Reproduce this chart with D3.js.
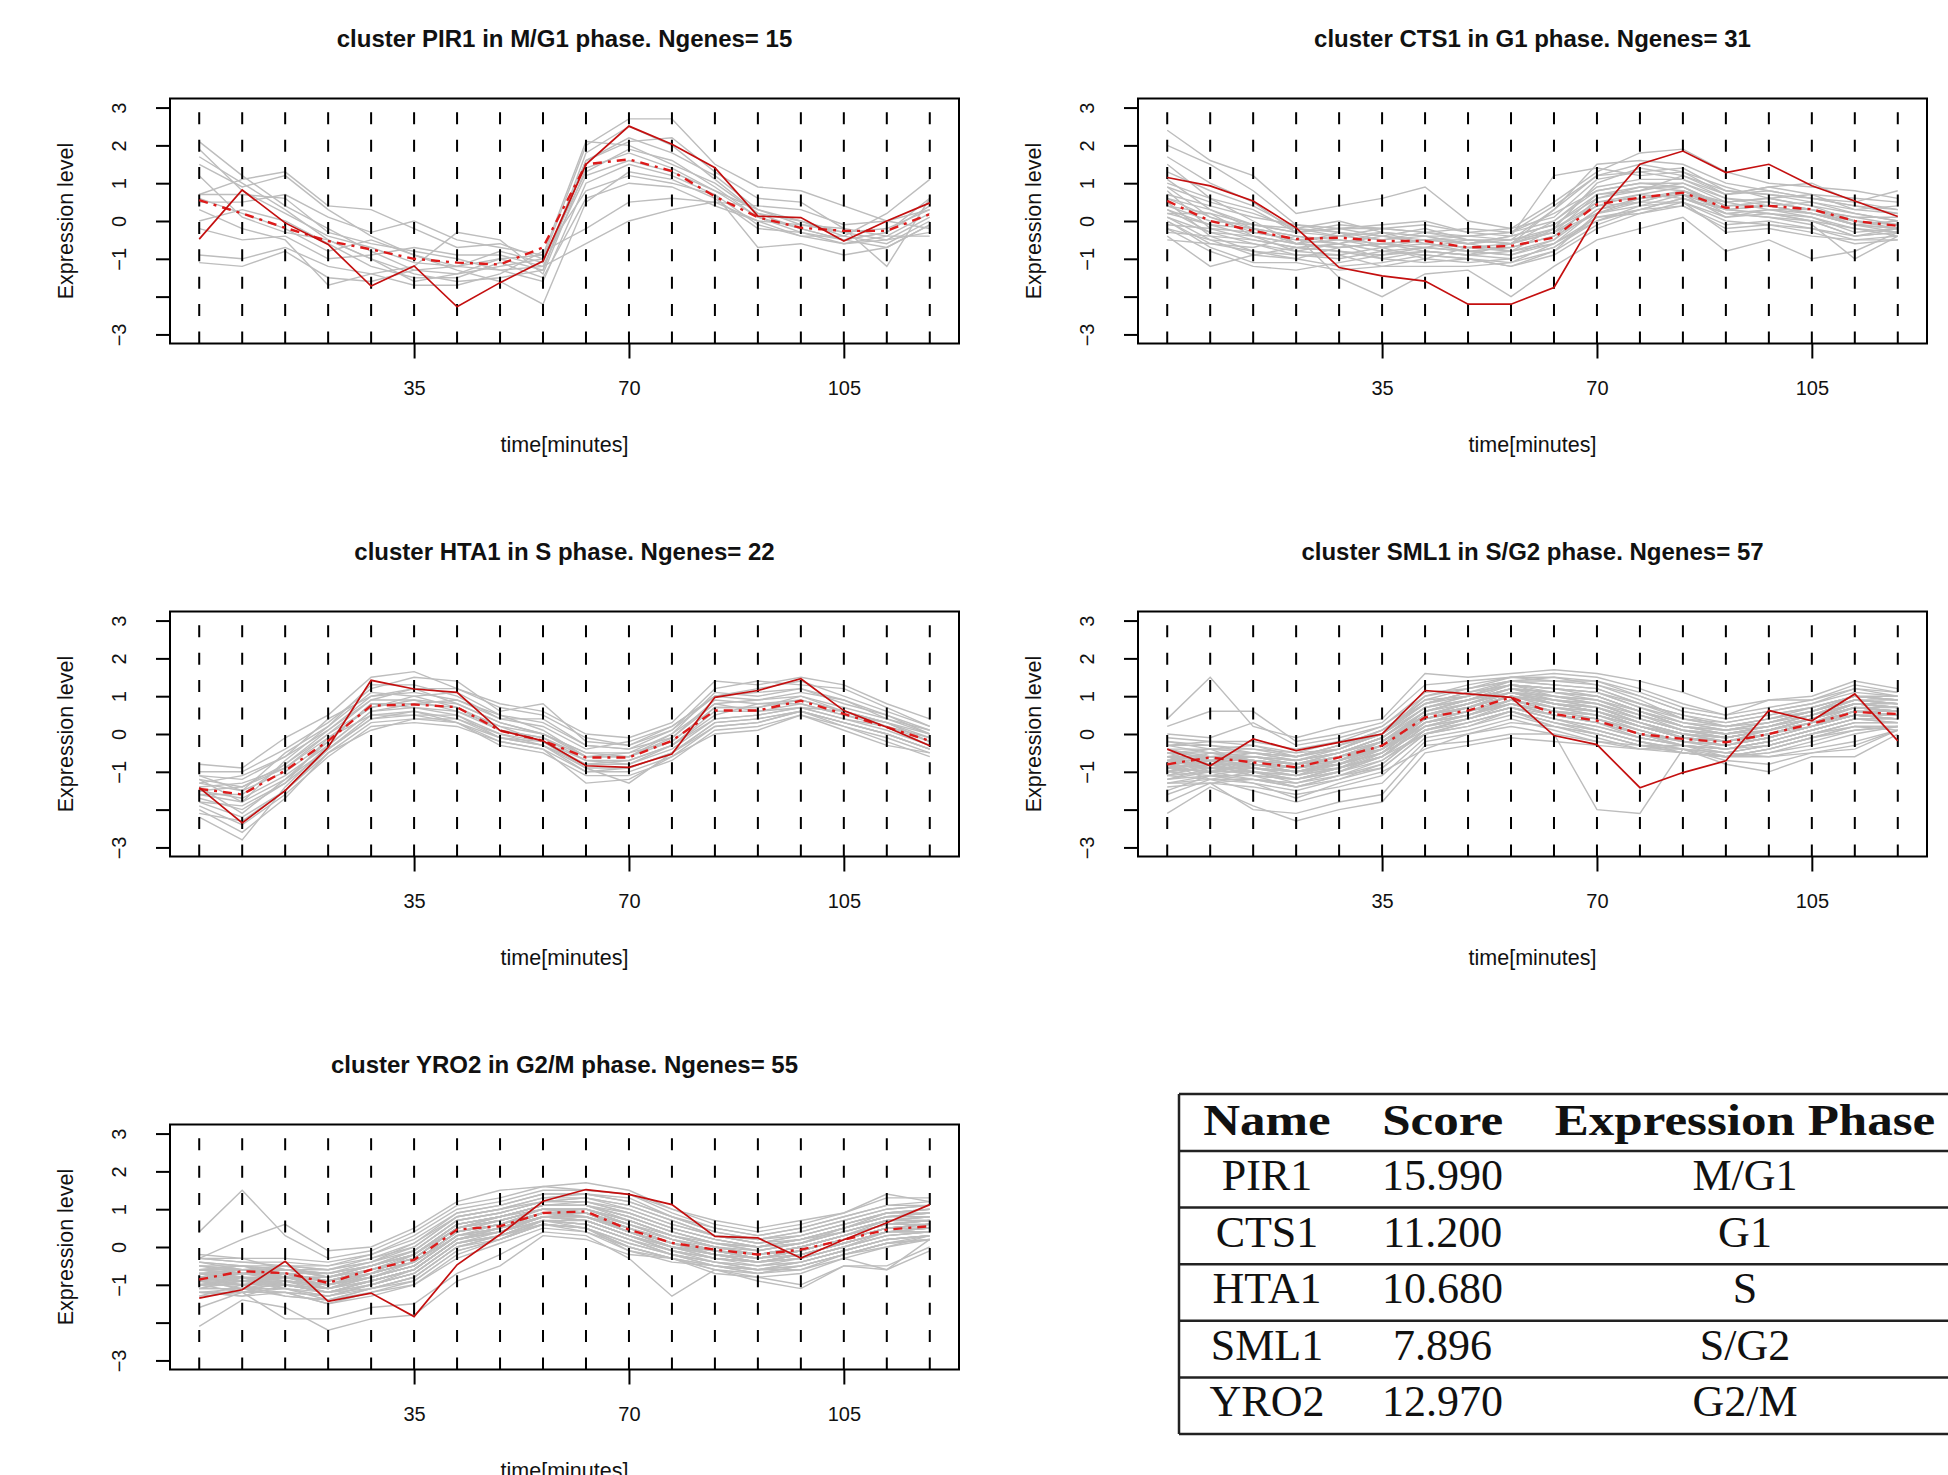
<!DOCTYPE html>
<meta charset="utf-8">
<head>
<style>
  body { margin: 0; background: #fff; }
  .axis text { font-family: "Liberation Sans", Arial, sans-serif; font-size: 20px; fill: #111; }
  .lab { font-family: "Liberation Sans", Arial, sans-serif; font-size: 21.5px; fill: #111; }
  .title { font-family: "Liberation Sans", Arial, sans-serif; font-size: 24px; font-weight: bold; fill: #111; }
  .tbl { font-family: "Liberation Serif", "DejaVu Serif", serif; font-size: 44px; fill: #111; }
</style>
</head>
<body>
<div id="chart"></div>
<script src="https://d3js.org/d3.v7.min.js"></script>
<script>
// time points (minutes)
var times = [0, 7, 14, 21, 28, 35, 42, 49, 56, 63, 70, 77, 84, 91, 98, 105, 112, 119];
var xTicks = [35, 70, 105];
var yTicks = [-3, -2, -1, 0, 1, 2, 3];

// PIR1 cluster, M/G1
var pir1Centre = [-0.48,0.82,-0.05,-0.62,-1.72,-1.19,-2.27,-1.63,-1.06,1.5,2.51,2.03,1.41,0.13,0.09,-0.53,0.0,0.48];
var pir1Mean = [0.55,0.2,-0.18,-0.53,-0.75,-1.0,-1.1,-1.15,-0.7,1.5,1.63,1.32,0.65,0.1,-0.18,-0.26,-0.26,0.18];
var pir1Genes = [
  [2.1,1.2,0.4,-0.2,-0.8,-1.3,-1.4,-1.2,-1.0,2.0,2.7,2.7,1.5,0.9,0.8,0.4,0.0,0.3],
  [1.7,1.0,0.3,-0.5,-1.0,-1.4,-1.6,-1.5,-1.3,1.6,2.2,1.8,1.2,0.3,0.0,-0.3,-0.5,0.1],
  [1.5,0.9,1.2,0.3,-0.4,-0.9,-1.2,-1.0,-0.9,2.1,2.0,1.5,1.0,0.2,-0.2,-0.5,-0.3,0.4],
  [0.7,1.1,1.3,0.4,0.3,-0.2,-0.7,-0.6,-1.0,1.3,1.9,1.6,0.9,0.1,-0.3,-0.6,-0.4,0.2],
  [0.7,0.7,0.6,-0.3,-0.6,-0.8,-1.0,-1.3,-1.6,1.0,1.5,1.2,0.7,-0.1,-0.4,-0.4,-0.6,0.0],
  [0.6,0.2,-0.2,-0.8,-0.5,-0.9,-1.3,-1.6,-2.2,0.5,1.3,1.1,0.6,-0.2,-0.3,-0.5,-0.7,-0.1],
  [0.0,0.3,0.0,-0.6,-1.2,-1.5,-1.5,-1.1,-1.5,0.6,1.0,0.9,0.4,0.0,-0.4,-0.6,-0.5,-0.3],
  [-0.2,-0.5,-0.4,-1.0,-0.9,-0.7,-0.9,-0.9,-1.2,1.2,1.6,1.3,0.8,0.3,-0.1,-0.3,-0.2,0.3],
  [-0.9,-1.0,-0.7,-1.2,-1.4,-1.7,-1.7,-1.4,-0.8,-0.2,0.5,0.6,0.5,0.4,0.3,-0.1,0.0,-0.2],
  [-1.1,-1.2,-0.8,-1.5,-1.6,-1.3,-1.2,-1.3,-1.2,-0.6,0.0,0.3,0.5,0.0,-0.1,-0.2,-0.4,-0.4],
  [1.9,0.8,0.2,-0.4,-0.7,-1.1,-1.2,-0.8,-1.1,1.6,2.1,2.2,1.3,0.6,0.5,-0.2,-1.2,0.6],
  [0.5,0.5,0.7,0.1,-0.3,0.0,-0.5,-0.7,-0.9,0.8,1.2,1.0,0.7,-0.7,-0.6,-0.9,-0.7,-0.1],
  [1.2,0.1,-0.3,-0.5,-1.0,-1.6,-1.4,-1.0,-1.3,1.8,2.5,2.0,1.1,0.2,0.0,-0.4,0.2,1.1],
  [0.3,-0.2,-0.5,-1.7,-1.4,-1.2,-0.3,-0.5,-1.4,1.4,1.8,1.4,0.8,0.1,-0.2,-0.5,-0.3,0.6]
];

// CTS1 cluster, G1
var cts1Centre = [1.15,0.93,0.53,-0.18,-1.23,-1.45,-1.59,-2.2,-2.2,-1.76,0.18,1.5,1.85,1.28,1.5,0.93,0.53,0.12];
var cts1Mean = [0.53,0.0,-0.26,-0.48,-0.44,-0.53,-0.53,-0.7,-0.66,-0.44,0.44,0.62,0.75,0.35,0.4,0.31,0.0,-0.13];
var cts1Genes = [
  [2.4,1.6,1.2,0.2,0.4,0.6,0.9,0.0,-0.2,0.5,1.3,1.8,1.9,1.3,1.0,0.9,0.8,0.6],
  [2.0,1.5,0.8,-0.1,-0.3,-0.4,-0.2,-0.5,-0.5,0.3,1.5,1.6,1.5,1.0,0.8,0.6,0.4,0.2],
  [1.7,1.0,0.5,-0.3,-0.2,-0.1,0.0,-0.3,-0.4,1.2,1.4,1.2,1.3,0.7,0.9,1.0,0.5,0.8],
  [1.5,0.6,0.0,-0.6,-0.5,-0.6,-0.5,-0.6,-0.8,-0.2,1.0,1.4,1.2,0.8,0.7,0.5,0.2,0.0],
  [1.1,0.3,-0.2,-0.4,-0.6,-0.8,-0.7,-0.8,-0.9,-0.5,0.6,0.8,1.0,0.5,0.6,0.4,0.0,-0.2],
  [0.9,0.5,0.2,-0.2,0.0,-0.3,-0.4,-0.4,-0.3,0.0,0.9,1.1,1.1,0.6,0.5,0.3,0.1,0.1],
  [0.8,-0.2,-0.5,-0.7,-0.8,-1.0,-1.1,-1.0,-1.2,-0.8,0.2,0.5,0.8,0.2,0.1,0.0,-0.4,-0.3],
  [0.6,0.1,-0.3,-0.5,-0.4,-0.2,-0.3,-0.5,-0.6,-0.3,0.4,0.7,0.9,0.4,0.5,0.3,0.0,-0.1],
  [0.5,-0.4,-0.8,-1.0,-1.2,-1.1,-0.9,-1.0,-1.1,-0.6,0.1,0.3,0.6,0.3,0.2,0.1,-0.2,-0.3],
  [0.4,0.0,-0.1,-0.3,-0.2,-0.4,-0.5,-0.6,-0.4,-0.1,0.6,0.9,0.8,0.5,0.6,0.4,0.2,0.0],
  [0.3,-0.3,-0.4,-0.6,-0.7,-0.6,-0.8,-0.9,-0.8,-0.5,0.3,0.6,0.7,0.1,0.3,0.2,-0.1,-0.2],
  [0.2,0.2,-0.1,-0.2,-0.3,-0.5,-0.3,-0.2,-0.3,0.2,0.8,1.0,1.0,0.6,0.4,0.5,0.3,0.2],
  [0.1,-0.5,-0.6,-0.8,-0.9,-1.2,-1.0,-1.1,-1.0,-0.7,0.0,0.4,0.5,0.0,-0.1,-0.2,-0.5,-0.4],
  [0.0,-0.6,-0.7,-0.4,-0.5,-0.7,-0.6,-0.7,-0.7,-0.4,0.5,0.7,0.6,0.2,0.3,0.1,-0.3,-0.2],
  [-0.1,-0.2,-0.3,-0.5,-0.6,-0.3,-0.4,-0.6,-0.5,-0.2,0.4,0.5,0.8,0.4,0.4,0.2,0.0,-0.1],
  [-0.2,-0.8,-1.2,-1.3,-1.1,-0.9,-0.8,-0.9,-0.6,-0.3,0.2,0.4,0.7,0.5,0.3,0.3,-0.1,-0.3],
  [-0.3,-0.4,-0.5,-0.7,-0.8,-0.9,-0.7,-0.8,-0.9,-0.6,0.3,0.5,0.5,0.1,0.2,0.0,-0.2,-0.4],
  [-0.4,-1.2,-0.9,-1.0,-0.7,-0.6,-0.5,-0.4,-0.5,-0.3,0.7,0.9,0.9,0.3,0.4,0.2,-0.1,0.0],
  [-0.5,-0.6,-0.8,-0.9,-1.0,-0.8,-0.9,-1.0,-1.2,-0.9,-0.2,0.2,0.4,-0.2,-0.1,-0.3,-0.6,-0.5],
  [0.7,0.4,0.1,-0.1,-0.2,-0.2,-0.1,-0.3,-0.2,0.1,1.1,1.3,1.4,0.8,0.7,0.6,0.5,0.3],
  [1.3,0.8,0.4,-0.2,-0.4,-0.3,-0.6,-0.7,-0.6,0.3,1.2,1.5,1.3,0.9,0.6,0.7,0.3,0.4],
  [0.2,-0.1,-0.2,-0.4,-1.5,-2.0,-1.4,-1.3,-2.0,-1.2,-0.5,-0.2,0.1,-0.8,-0.5,-1.0,-0.8,-0.3],
  [0.4,0.2,-0.4,-0.8,-0.6,-0.4,-0.6,-0.8,-0.7,-0.4,0.2,0.6,0.7,0.3,0.2,0.0,-0.4,-0.3],
  [0.9,0.1,-0.2,-0.6,-0.3,-0.7,-0.5,-0.5,-0.6,0.0,0.8,1.0,0.9,0.4,0.5,0.3,0.1,-0.1],
  [0.1,-0.3,-0.6,-0.9,-0.9,-0.7,-1.0,-0.7,-0.8,-0.6,0.0,0.3,0.6,0.2,0.1,-0.1,-1.0,-0.4],
  [0.6,0.3,-0.1,-0.3,-0.4,-0.5,-0.4,-0.6,-0.4,-0.1,0.7,0.8,1.2,0.7,0.8,0.6,0.4,0.3],
  [-0.2,-0.5,-0.9,-0.7,-0.6,-1.0,-0.8,-0.9,-1.0,-0.7,0.1,0.2,0.5,-0.3,-0.2,-0.4,-0.5,-0.5],
  [1.0,0.6,0.3,-0.3,-0.1,-0.2,-0.3,-0.4,-0.3,0.4,1.2,1.3,1.1,0.7,0.9,0.7,0.6,0.5],
  [0.3,-0.1,-0.4,-0.6,-0.7,-0.6,-0.7,-0.5,-0.6,-0.2,0.5,0.6,0.8,0.3,0.4,0.2,-0.1,-0.2],
  [0.0,-0.7,-1.1,-1.1,-1.3,-1.2,-1.2,-1.2,-1.1,-0.8,-0.1,0.3,0.4,-0.1,0.0,-0.2,-0.4,-0.2]
];

// HTA1 cluster, S
var hta1Centre = [-1.42,-2.35,-1.5,-0.35,1.42,1.19,1.1,0.09,-0.18,-0.84,-0.88,-0.53,0.97,1.15,1.46,0.62,0.18,-0.31];
var hta1Mean = [-1.45,-1.6,-0.97,-0.18,0.75,0.78,0.71,0.09,-0.18,-0.62,-0.62,-0.18,0.62,0.62,0.88,0.53,0.18,-0.18];
var hta1Genes = [
  [-0.8,-0.9,-0.1,0.5,1.5,1.65,1.2,0.8,0.6,0.0,-0.1,0.3,1.4,1.3,1.5,1.3,0.8,0.4],
  [-1.0,-1.0,-0.4,0.3,1.2,1.5,1.4,0.6,0.8,-0.2,-0.3,0.1,1.2,1.4,1.3,1.2,0.7,0.2],
  [-1.1,-1.2,-0.6,0.1,1.0,1.1,0.9,0.4,0.2,-0.4,-0.2,0.2,1.0,1.1,1.2,0.9,0.5,0.1],
  [-1.2,-1.4,-0.8,0.0,0.9,0.9,0.8,0.3,0.0,-0.5,-0.5,0.0,0.8,0.9,1.0,0.7,0.4,0.0],
  [-1.3,-1.5,-1.0,-0.2,0.8,0.8,0.7,0.1,-0.1,-0.6,-0.6,-0.2,0.7,0.7,0.9,0.6,0.2,-0.1],
  [-1.4,-1.3,-0.9,-0.1,0.7,0.9,0.6,0.2,-0.2,-0.7,-0.7,-0.3,0.6,0.6,0.8,0.5,0.3,-0.2],
  [-1.5,-1.7,-1.1,-0.3,0.6,0.7,0.5,0.0,-0.3,-0.8,-0.8,-0.4,0.4,0.5,0.7,0.4,0.1,-0.3],
  [-1.6,-1.8,-1.2,-0.4,0.5,0.6,0.4,-0.1,-0.3,-0.9,-0.9,-0.5,0.3,0.4,0.6,0.3,0.0,-0.4],
  [-1.7,-2.0,-1.3,-0.4,0.4,0.5,0.3,-0.2,-0.4,-1.0,-1.0,-0.6,0.2,0.3,0.6,0.2,-0.1,-0.5],
  [-1.8,-2.2,-1.5,-0.5,0.3,0.4,0.3,-0.3,-0.5,-1.1,-1.1,-0.7,0.1,0.2,0.5,0.2,-0.2,-0.6],
  [-1.9,-2.4,-1.6,-0.6,0.2,0.3,0.2,-0.2,-0.4,-1.3,-1.2,-0.6,0.0,0.1,0.5,0.1,-0.3,-0.5],
  [-2.0,-2.6,-1.7,-0.5,0.1,0.4,0.4,0.0,-0.2,-0.9,-1.3,-0.5,0.2,0.3,0.6,0.3,0.0,-0.4],
  [-2.2,-2.8,-1.4,-0.3,0.6,0.8,0.9,0.5,0.3,-0.3,-0.4,-0.1,0.9,0.8,0.9,0.6,0.3,-0.2],
  [-1.2,-1.8,-0.7,0.2,1.1,1.0,1.1,0.5,0.1,-0.6,-0.6,0.0,1.1,1.0,1.2,0.8,0.5,0.0],
  [-1.4,-2.1,-1.2,-0.2,0.8,0.7,0.6,0.1,-0.1,-0.7,-0.8,-0.3,0.5,0.8,0.8,0.5,0.2,-0.2],
  [-1.6,-1.6,-0.8,0.1,0.9,1.2,0.8,0.3,0.0,-0.5,-0.6,-0.1,0.8,0.6,0.7,0.6,0.3,-0.1],
  [-1.1,-1.5,-0.5,0.2,1.3,1.3,1.0,0.4,0.4,-0.3,-0.4,0.1,1.0,1.2,1.4,1.0,0.6,0.2],
  [-1.8,-1.9,-1.3,-0.1,0.5,0.5,0.5,-0.1,-0.2,-0.8,-0.7,-0.3,0.4,0.5,0.7,0.4,0.2,-0.3],
  [-1.3,-1.1,-0.6,0.4,1.0,1.2,1.2,0.7,0.5,-0.1,-0.3,0.2,1.0,0.9,1.1,0.9,0.4,0.1],
  [-2.1,-2.3,-1.5,-0.4,0.4,0.6,0.3,-0.1,-0.3,-1.0,-0.9,-0.5,0.3,0.4,0.6,0.3,0.0,-0.4],
  [-1.5,-1.4,-0.9,0.0,0.7,1.0,0.7,0.2,0.0,-0.6,-0.5,-0.2,0.7,0.7,1.0,0.6,0.3,0.0]
];

// SML1 cluster, S/G2
var sml1Centre = [-0.4,-0.84,-0.13,-0.44,-0.22,0.0,1.15,1.06,0.97,-0.04,-0.28,-1.42,-1.02,-0.71,0.62,0.35,1.06,-0.18];
var sml1Mean = [-0.8,-0.62,-0.75,-0.88,-0.62,-0.31,0.44,0.62,0.97,0.53,0.35,0.0,-0.13,-0.22,0.0,0.27,0.58,0.53];
var sml1Genes = [
  [-0.2,-0.3,-0.4,-0.5,-0.2,0.2,1.0,1.3,1.5,1.5,1.4,1.0,0.6,0.4,0.6,0.8,1.1,1.0],
  [-0.3,-0.2,-0.3,-0.6,-0.3,0.1,0.9,1.2,1.4,1.3,1.2,0.8,0.5,0.3,0.5,0.7,1.0,0.9],
  [-0.4,-0.4,-0.5,-0.6,-0.4,0.0,0.8,1.1,1.3,1.2,1.0,0.6,0.3,0.1,0.3,0.6,0.9,0.8],
  [-0.5,-0.5,-0.5,-0.7,-0.5,-0.1,0.7,1.0,1.3,1.0,0.9,0.5,0.2,0.0,0.2,0.5,0.8,0.7],
  [-0.6,-0.6,-0.6,-0.8,-0.5,-0.2,0.6,0.9,1.2,0.9,0.7,0.4,0.1,-0.1,0.1,0.4,0.7,0.6],
  [-0.7,-0.6,-0.7,-0.8,-0.6,-0.2,0.5,0.8,1.1,0.8,0.6,0.3,0.0,-0.2,0.0,0.3,0.6,0.6],
  [-0.8,-0.7,-0.8,-0.9,-0.6,-0.3,0.4,0.7,1.0,0.7,0.5,0.2,-0.1,-0.2,0.0,0.3,0.6,0.5],
  [-0.9,-0.8,-0.8,-1.0,-0.7,-0.4,0.3,0.6,0.9,0.6,0.4,0.1,-0.2,-0.3,-0.1,0.2,0.5,0.4],
  [-1.0,-0.9,-0.9,-1.0,-0.8,-0.4,0.2,0.5,0.8,0.5,0.3,0.0,-0.2,-0.4,-0.2,0.1,0.4,0.4],
  [-1.1,-1.0,-1.0,-1.1,-0.9,-0.5,0.1,0.4,0.7,0.4,0.2,-0.1,-0.3,-0.4,-0.3,0.0,0.3,0.3],
  [-1.2,-1.1,-1.1,-1.2,-1.0,-0.6,0.0,0.3,0.6,0.3,0.1,-0.2,-0.4,-0.5,-0.3,0.0,0.2,0.2],
  [-1.3,-1.2,-1.2,-1.3,-1.1,-0.7,0.0,0.2,0.5,0.2,0.0,-0.3,-0.4,-0.6,-0.4,-0.1,0.2,0.1],
  [-0.5,-0.8,-0.6,-0.7,-0.4,0.0,0.9,1.0,1.4,1.4,1.3,0.9,0.4,0.2,0.4,0.6,0.9,0.9],
  [-0.7,-0.9,-0.9,-1.1,-0.7,-0.3,0.6,0.9,1.2,1.1,1.0,0.6,0.2,0.0,0.1,0.4,0.8,0.8],
  [-0.9,-0.5,-0.7,-0.9,-0.8,-0.5,0.4,0.7,1.0,0.9,0.8,0.4,0.1,-0.1,0.1,0.4,0.7,0.7],
  [-1.0,-0.7,-1.0,-1.2,-0.9,-0.6,0.2,0.5,0.9,0.6,0.5,0.2,-0.1,-0.3,-0.1,0.2,0.5,0.5],
  [-0.6,-1.0,-0.8,-0.9,-0.6,-0.2,0.5,0.8,1.1,1.0,0.8,0.5,0.1,0.0,0.2,0.5,0.8,0.7],
  [-0.8,-1.2,-1.0,-1.3,-1.0,-0.5,0.3,0.6,0.8,0.6,0.4,0.0,-0.3,-0.4,-0.2,0.1,0.4,0.3],
  [-1.2,-1.0,-0.7,-0.8,-0.7,-0.3,0.5,0.7,1.0,0.8,0.7,0.3,-0.1,-0.3,0.0,0.2,0.6,0.6],
  [-0.4,-0.6,-0.9,-1.0,-0.9,-0.4,0.3,0.5,0.9,0.7,0.6,0.2,0.0,-0.2,0.1,0.3,0.7,0.6],
  [-1.1,-0.8,-1.1,-1.4,-1.1,-0.8,0.1,0.4,0.7,0.4,0.1,-0.2,-0.5,-0.6,-0.5,-0.2,0.1,0.2],
  [-0.3,-0.5,-0.6,-0.7,-0.5,-0.1,0.7,0.9,1.3,1.2,1.1,0.7,0.3,0.2,0.3,0.6,1.0,1.0],
  [-1.3,-1.1,-1.2,-1.4,-1.1,-0.9,0.0,0.3,0.6,0.3,0.0,-0.3,-0.5,-0.6,-0.4,-0.1,0.1,0.2],
  [-0.6,-0.7,-0.7,-0.9,-0.7,-0.3,0.6,0.8,1.2,1.0,0.9,0.5,0.2,0.0,0.2,0.5,0.8,0.7],
  [-0.9,-1.0,-0.8,-1.0,-0.8,-0.5,0.4,0.6,1.0,0.7,0.6,0.2,-0.1,-0.2,0.0,0.3,0.6,0.5],
  [-1.0,-0.6,-0.6,-0.8,-0.6,-0.2,0.5,0.8,1.1,0.8,0.6,0.3,0.0,-0.1,0.1,0.4,0.7,0.6],
  [-0.7,-0.8,-1.1,-1.2,-0.9,-0.6,0.2,0.4,0.7,0.5,0.3,-0.1,-0.3,-0.4,-0.2,0.1,0.4,0.4],
  [-0.5,-0.4,-0.4,-0.6,-0.3,0.1,0.8,1.1,1.4,1.3,1.2,0.8,0.4,0.2,0.4,0.7,1.0,0.9],
  [-1.1,-1.2,-1.3,-1.5,-1.2,-0.9,0.0,0.2,0.6,0.3,0.1,-0.2,-0.4,-0.5,-0.3,0.0,0.3,0.3],
  [-0.8,-0.6,-0.5,-0.7,-0.5,-0.1,0.7,0.9,1.2,1.1,0.9,0.6,0.2,0.1,0.3,0.5,0.9,0.8],
  [-2.1,-1.4,-1.9,-2.3,-2.0,-1.8,-0.5,-0.3,-0.1,-0.2,-0.3,-0.4,-0.3,-0.6,-0.5,-0.3,0.0,0.2],
  [0.4,1.5,0.2,-0.1,0.2,0.4,1.6,1.5,1.6,1.7,1.6,1.4,1.1,0.7,0.9,1.0,1.4,1.2],
  [-1.8,-1.3,-2.0,-2.1,-1.8,-1.6,-0.3,-0.2,0.0,0.0,-2.0,-2.1,-0.4,-0.8,-1.0,-0.6,-0.6,0.0],
  [0.2,0.6,0.6,-0.2,0.0,0.3,1.3,1.4,1.5,1.6,1.5,1.2,0.8,0.5,0.9,0.9,1.3,1.1],
  [-1.6,-1.2,-1.5,-1.8,-1.5,-1.3,-0.2,0.0,0.3,0.2,-0.1,-0.4,-0.4,-0.7,-0.8,-0.5,-0.4,0.1],
  [0.0,-0.1,0.3,-0.3,-0.1,0.2,1.1,1.2,1.4,1.5,1.3,1.0,0.6,0.4,0.6,0.8,1.2,1.0],
  [-1.4,-1.3,-1.4,-1.6,-1.4,-1.1,-0.1,0.1,0.4,0.1,-0.2,-0.3,-0.3,-0.5,-0.6,-0.4,-0.2,0.1],
  [-0.1,-0.2,-0.2,-0.4,-0.2,0.0,1.0,1.2,1.5,1.4,1.4,1.1,0.7,0.5,0.7,0.9,1.2,1.1],
  [-1.5,-1.1,-1.3,-1.7,-1.3,-1.0,-0.4,0.0,0.2,0.0,-0.2,-0.4,-0.5,-0.6,-0.6,-0.5,-0.3,0.1],
  [-0.2,-0.4,-0.3,-0.5,-0.4,0.1,0.8,1.0,1.3,1.2,1.1,0.7,0.4,0.3,0.5,0.7,1.0,0.9],
  [-0.9,-0.7,-0.9,-1.0,-0.8,-0.3,0.4,0.6,0.9,0.7,0.5,0.2,-0.1,-0.2,0.0,0.3,0.5,0.5],
  [-0.7,-0.5,-0.7,-0.8,-0.6,-0.4,0.5,0.7,1.1,0.9,0.7,0.3,0.0,-0.1,0.1,0.4,0.7,0.6],
  [-1.0,-1.1,-0.9,-1.1,-0.9,-0.6,0.3,0.5,0.8,0.5,0.4,0.1,-0.2,-0.3,-0.1,0.2,0.5,0.4],
  [-0.6,-0.4,-0.8,-0.9,-0.7,-0.2,0.6,0.9,1.1,0.9,0.8,0.4,0.1,0.0,0.2,0.4,0.8,0.7],
  [-1.2,-0.9,-1.1,-1.2,-1.0,-0.7,0.1,0.4,0.7,0.4,0.2,-0.1,-0.3,-0.5,-0.3,0.0,0.3,0.3],
  [-0.4,-0.7,-0.5,-0.6,-0.4,0.0,0.7,1.0,1.3,1.1,1.0,0.6,0.3,0.1,0.3,0.6,0.9,0.8],
  [-0.8,-0.9,-1.0,-1.1,-0.8,-0.5,0.3,0.5,0.9,0.6,0.5,0.1,-0.2,-0.3,-0.1,0.2,0.5,0.4],
  [-1.1,-0.8,-0.8,-1.0,-0.7,-0.4,0.4,0.7,1.0,0.8,0.6,0.2,-0.1,-0.2,0.0,0.3,0.6,0.5],
  [-0.5,-0.6,-0.6,-0.8,-0.5,-0.1,0.6,0.9,1.2,1.1,1.0,0.6,0.2,0.1,0.2,0.5,0.9,0.8],
  [-0.9,-1.0,-1.2,-1.3,-1.0,-0.6,0.2,0.4,0.8,0.5,0.3,0.0,-0.3,-0.4,-0.2,0.1,0.4,0.3],
  [-0.7,-0.7,-0.6,-0.7,-0.5,-0.2,0.5,0.8,1.1,1.0,0.8,0.4,0.1,-0.1,0.1,0.4,0.8,0.7],
  [-1.3,-1.3,-1.2,-1.4,-1.2,-0.8,0.1,0.3,0.6,0.2,0.0,-0.3,-0.5,-0.6,-0.4,-0.1,0.2,0.2],
  [-0.3,-0.3,-0.5,-0.6,-0.3,0.0,0.8,1.1,1.3,1.2,1.1,0.8,0.5,0.2,0.4,0.6,1.0,0.9],
  [-1.0,-0.8,-1.0,-1.2,-0.9,-0.6,0.3,0.5,0.8,0.6,0.4,0.0,-0.2,-0.3,-0.1,0.2,0.5,0.4],
  [-0.6,-0.9,-0.7,-0.8,-0.6,-0.3,0.4,0.7,1.0,0.8,0.7,0.3,0.0,-0.1,0.1,0.4,0.7,0.6],
  [-0.8,-0.6,-0.9,-1.0,-0.8,-0.4,0.5,0.7,1.1,0.8,0.6,0.2,-0.1,-0.2,0.0,0.3,0.6,0.5]
];

// YRO2 cluster, G2/M
var yro2Centre = [-1.35,-1.13,-0.38,-1.44,-1.22,-1.84,-0.47,0.33,1.21,1.52,1.39,1.12,0.28,0.24,-0.29,0.19,0.64,1.12];
var yro2Mean = [-0.86,-0.64,-0.69,-0.95,-0.6,-0.34,0.46,0.55,0.9,0.94,0.46,0.11,-0.07,-0.2,-0.07,0.19,0.46,0.55];
var yro2Genes = [
  [-0.2,-0.3,-0.3,-0.4,-0.2,0.3,1.0,1.2,1.5,1.5,1.4,0.9,0.5,0.3,0.5,0.8,1.1,1.2],
  [-0.3,-0.4,-0.4,-0.5,-0.3,0.1,0.9,1.1,1.4,1.4,1.2,0.8,0.4,0.2,0.4,0.7,1.0,1.1],
  [-0.4,-0.5,-0.5,-0.6,-0.4,0.0,0.8,1.0,1.3,1.3,1.0,0.6,0.3,0.1,0.3,0.6,0.9,1.0],
  [-0.5,-0.6,-0.6,-0.7,-0.5,-0.1,0.7,0.9,1.2,1.2,0.9,0.5,0.2,0.0,0.2,0.5,0.8,0.9],
  [-0.6,-0.7,-0.6,-0.8,-0.5,-0.2,0.6,0.8,1.1,1.1,0.8,0.4,0.1,-0.1,0.1,0.4,0.7,0.8],
  [-0.7,-0.7,-0.7,-0.9,-0.6,-0.3,0.5,0.7,1.0,1.0,0.7,0.3,0.0,-0.2,0.0,0.3,0.6,0.7],
  [-0.8,-0.8,-0.8,-1.0,-0.7,-0.4,0.4,0.6,0.9,0.9,0.6,0.2,-0.1,-0.3,-0.1,0.2,0.5,0.6],
  [-0.9,-0.9,-0.9,-1.1,-0.8,-0.5,0.3,0.5,0.8,0.8,0.5,0.1,-0.2,-0.4,-0.2,0.1,0.4,0.5],
  [-1.0,-1.0,-1.0,-1.2,-0.9,-0.6,0.2,0.4,0.7,0.7,0.3,0.0,-0.3,-0.5,-0.3,0.0,0.3,0.4],
  [-1.1,-1.1,-1.1,-1.3,-1.0,-0.7,0.1,0.3,0.7,0.6,0.2,-0.1,-0.4,-0.6,-0.4,-0.1,0.2,0.3],
  [-1.2,-1.2,-1.1,-1.4,-1.1,-0.8,0.0,0.3,0.6,0.5,0.1,-0.2,-0.5,-0.7,-0.5,-0.2,0.1,0.3],
  [-1.2,-1.3,-1.2,-1.5,-1.2,-1.0,-0.2,0.2,0.6,0.4,0.0,-0.3,-0.6,-0.7,-0.6,-0.3,0.0,0.2],
  [0.4,1.5,0.3,-0.3,-0.1,0.4,1.1,1.3,1.6,1.5,1.4,1.0,0.6,0.4,0.6,0.9,1.3,1.3],
  [-2.1,-1.4,-1.6,-2.2,-1.9,-1.8,-0.9,-0.5,0.3,0.2,-0.2,-0.3,-0.7,-0.8,-1.0,-0.5,-0.5,0.0],
  [-0.3,0.2,0.6,-0.1,0.0,0.5,1.2,1.5,1.6,1.7,1.5,1.0,0.7,0.5,0.7,0.9,1.4,1.2],
  [-1.6,-1.2,-1.9,-1.9,-1.6,-1.5,-0.7,-0.2,0.4,0.3,-0.3,-1.3,-0.6,-0.9,-1.1,-0.5,-0.6,-0.1],
  [-0.6,-0.5,-0.8,-0.8,-0.6,-0.2,0.6,0.8,1.1,1.2,0.9,0.5,0.2,0.0,0.2,0.5,0.8,0.8],
  [-0.9,-0.7,-0.7,-1.1,-0.7,-0.4,0.4,0.6,0.9,1.0,0.6,0.2,-0.1,-0.2,0.0,0.3,0.6,0.6],
  [-1.0,-1.2,-0.9,-1.0,-0.8,-0.5,0.3,0.4,0.8,0.8,0.4,0.1,-0.2,-0.4,-0.2,0.1,0.4,0.5],
  [-0.7,-0.9,-1.0,-1.2,-0.9,-0.6,0.2,0.5,0.8,0.9,0.4,0.0,-0.1,-0.3,-0.1,0.2,0.5,0.5],
  [-0.5,-0.6,-0.5,-0.6,-0.4,-0.1,0.7,0.9,1.2,1.3,1.1,0.7,0.3,0.1,0.3,0.6,0.9,1.0],
  [-1.3,-1.0,-1.3,-1.4,-1.2,-0.9,-0.1,0.2,0.7,0.5,-0.1,-0.4,-0.5,-0.6,-0.6,-0.2,0.0,0.3],
  [-0.8,-1.0,-0.8,-0.9,-0.6,-0.3,0.5,0.7,1.0,1.0,0.6,0.3,0.0,-0.2,0.0,0.3,0.6,0.7],
  [-0.4,-0.6,-0.7,-0.9,-0.7,-0.2,0.5,0.8,1.1,1.1,0.7,0.3,0.1,-0.1,0.1,0.4,0.7,0.8],
  [-1.1,-0.8,-1.0,-1.1,-0.9,-0.6,0.2,0.5,0.8,0.7,0.3,-0.1,-0.3,-0.4,-0.3,0.0,0.4,0.4],
  [-0.6,-0.8,-0.9,-1.0,-0.6,-0.4,0.4,0.6,1.0,0.9,0.5,0.1,-0.1,-0.3,-0.1,0.2,0.5,0.6],
  [-0.9,-1.1,-1.2,-1.3,-1.0,-0.7,0.1,0.4,0.7,0.6,0.2,-0.2,-0.4,-0.5,-0.4,-0.1,0.2,0.3],
  [-0.3,-0.3,-0.6,-0.7,-0.4,0.1,0.8,1.0,1.3,1.4,1.2,0.8,0.4,0.2,0.4,0.7,1.0,1.1],
  [-1.2,-1.3,-1.0,-1.2,-1.1,-0.8,0.0,0.3,0.6,0.5,0.0,-0.3,-0.5,-0.7,-0.5,-0.2,0.1,0.2],
  [-0.7,-0.6,-0.6,-0.8,-0.5,-0.2,0.6,0.8,1.1,1.1,0.8,0.4,0.1,0.0,0.2,0.4,0.7,0.8],
  [-0.5,-0.5,-0.7,-0.7,-0.5,-0.1,0.7,0.9,1.2,1.2,1.0,0.6,0.3,0.1,0.2,0.5,0.9,0.9],
  [-1.0,-0.9,-0.8,-1.1,-0.8,-0.5,0.3,0.5,0.9,0.8,0.4,0.0,-0.2,-0.4,-0.2,0.1,0.4,0.5],
  [-0.8,-0.7,-0.9,-1.0,-0.7,-0.4,0.4,0.6,0.9,0.9,0.5,0.1,-0.1,-0.3,-0.1,0.2,0.5,0.6],
  [-1.1,-1.1,-1.0,-1.2,-1.0,-0.7,0.1,0.3,0.7,0.6,0.2,-0.2,-0.4,-0.5,-0.4,-0.1,0.2,0.3],
  [-0.6,-0.7,-0.5,-0.8,-0.6,-0.3,0.5,0.8,1.0,1.0,0.7,0.3,0.0,-0.1,0.1,0.4,0.7,0.7],
  [-0.9,-0.8,-1.1,-1.2,-0.9,-0.6,0.2,0.4,0.8,0.7,0.3,-0.1,-0.3,-0.4,-0.3,0.0,0.3,0.4],
  [-0.4,-0.5,-0.6,-0.6,-0.3,0.0,0.8,1.0,1.2,1.3,1.1,0.7,0.3,0.2,0.3,0.6,0.9,1.0],
  [-1.2,-1.2,-1.2,-1.3,-1.1,-0.8,0.0,0.2,0.6,0.5,0.0,-0.3,-0.5,-0.6,-0.5,-0.2,0.1,0.2],
  [-0.7,-0.9,-0.7,-0.9,-0.7,-0.4,0.4,0.7,1.0,0.9,0.6,0.2,-0.1,-0.2,0.0,0.3,0.6,0.7],
  [-0.8,-0.6,-0.8,-1.0,-0.8,-0.5,0.3,0.5,0.9,0.8,0.5,0.1,-0.2,-0.3,-0.1,0.2,0.5,0.6],
  [-1.0,-1.0,-0.9,-1.1,-0.9,-0.6,0.2,0.4,0.8,0.7,0.3,0.0,-0.3,-0.4,-0.2,0.1,0.4,0.4],
  [-0.5,-0.7,-0.8,-0.8,-0.5,-0.2,0.6,0.8,1.1,1.1,0.8,0.4,0.1,0.0,0.1,0.5,0.8,0.9],
  [-1.1,-0.9,-1.1,-1.3,-1.0,-0.7,0.1,0.3,0.7,0.6,0.2,-0.2,-0.4,-0.6,-0.4,-0.1,0.2,0.3],
  [-0.6,-0.6,-0.7,-0.9,-0.6,-0.3,0.5,0.7,1.0,1.0,0.7,0.3,0.0,-0.2,0.0,0.3,0.7,0.7],
  [-0.9,-1.1,-0.9,-1.0,-0.8,-0.5,0.3,0.6,0.9,0.8,0.4,0.0,-0.2,-0.3,-0.2,0.1,0.4,0.5],
  [-0.7,-0.8,-1.0,-1.1,-0.8,-0.4,0.4,0.6,0.9,0.9,0.5,0.2,-0.1,-0.2,-0.1,0.2,0.5,0.6],
  [-1.3,-1.2,-1.2,-1.5,-1.3,-1.0,-0.3,0.1,0.5,0.4,-0.1,-0.3,-0.6,-0.8,-0.7,-0.3,-0.6,0.2],
  [-0.3,-0.4,-0.5,-0.5,-0.2,0.2,0.9,1.1,1.4,1.4,1.3,0.8,0.5,0.3,0.5,0.8,1.1,1.1],
  [-0.8,-0.9,-0.8,-1.0,-0.7,-0.4,0.3,0.5,0.9,0.9,0.5,0.1,-0.1,-0.3,-0.1,0.2,0.5,0.5],
  [-1.0,-0.8,-1.0,-1.2,-1.0,-0.6,0.2,0.4,0.8,0.7,0.3,-0.1,-0.3,-0.4,-0.3,0.0,0.3,0.4],
  [-0.6,-0.5,-0.6,-0.7,-0.5,-0.2,0.6,0.8,1.1,1.1,0.9,0.5,0.2,0.0,0.2,0.5,0.8,0.9],
  [-0.9,-1.0,-0.9,-1.2,-0.9,-0.6,0.2,0.5,0.8,0.8,0.4,0.0,-0.2,-0.4,-0.2,0.1,0.4,0.4],
  [-0.7,-0.7,-0.8,-0.9,-0.6,-0.3,0.5,0.7,1.0,1.0,0.6,0.2,0.0,-0.2,0.0,0.3,0.6,0.7],
  [-1.2,-1.1,-1.3,-1.4,-1.1,-0.9,-0.1,0.2,0.6,0.5,0.1,-0.2,-0.5,-0.6,-0.5,-0.2,0.1,0.2]
];

// summary table
var tableHeader = ["Name", "Score", "Expression Phase"];
var tableNames = ["PIR1", "CTS1", "HTA1", "SML1", "YRO2"];
var tableScores = ["15.990", "11.200", "10.680", "7.896", "12.970"];
var tablePhases = ["M/G1", "G1", "S", "S/G2", "G2/M"];

var panels = [
  {name: "PIR1", phase: "M/G1", n: 15, genes: pir1Genes, centre: pir1Centre, mean: pir1Mean, col: 0, row: 0},
  {name: "CTS1", phase: "G1", n: 31, genes: cts1Genes, centre: cts1Centre, mean: cts1Mean, col: 1, row: 0},
  {name: "HTA1", phase: "S", n: 22, genes: hta1Genes, centre: hta1Centre, mean: hta1Mean, col: 0, row: 1},
  {name: "SML1", phase: "S/G2", n: 57, genes: sml1Genes, centre: sml1Centre, mean: sml1Mean, col: 1, row: 1},
  {name: "YRO2", phase: "G2/M", n: 55, genes: yro2Genes, centre: yro2Centre, mean: yro2Mean, col: 0, row: 2}
];

var W = 1948, H = 1475;
var box = {left: 170, top: 98.5, width: 789, height: 245};
var colStep = 968, rowStep = 513;

var svg = d3.select("#chart").append("svg")
    .attr("width", W)
    .attr("height", H);

// R style 4% padding on both axes
var xr = d3.extent(times), xpad = (xr[1] - xr[0]) * 0.04;
var x = d3.scaleLinear().domain([xr[0] - xpad, xr[1] + xpad]).range([0, box.width]);
var y = d3.scaleLinear().domain([-3.24, 3.24]).range([box.height, 0]);

var line = d3.line()
    .x(function(d, i) { return x(times[i]); })
    .y(function(d) { return y(d); });

panels.forEach(function(p) {
  var g = svg.append("g")
      .attr("transform", "translate(" + (box.left + p.col * colStep) + "," + (box.top + p.row * rowStep) + ")");

  // gene profiles
  g.selectAll(".gene")
    .data(p.genes)
    .enter().append("path")
      .attr("d", line)
      .attr("fill", "none")
      .attr("stroke", "#bdbdbd")
      .attr("stroke-width", 1.4);

  // dashed verticals at every time point
  g.selectAll(".vl")
    .data(times)
    .enter().append("line")
      .attr("x1", function(d) { return x(d); })
      .attr("x2", function(d) { return x(d); })
      .attr("y1", box.height)
      .attr("y2", 0)
      .attr("stroke", "#000")
      .attr("stroke-width", 2)
      .attr("stroke-dasharray", "12,15.4");

  // cluster mean (dot-dash) and centre gene
  g.append("path")
    .attr("d", line(p.mean))
    .attr("fill", "none")
    .attr("stroke", "#dd1a1a")
    .attr("stroke-width", 2.4)
    .attr("stroke-dasharray", "9,6,3,6");

  g.append("path")
    .attr("d", line(p.centre))
    .attr("fill", "none")
    .attr("stroke", "#c40f0f")
    .attr("stroke-width", 1.7);

  // frame
  g.append("rect")
    .attr("width", box.width)
    .attr("height", box.height)
    .attr("fill", "none")
    .attr("stroke", "#000")
    .attr("stroke-width", 2);

  // axes
  var xa = g.append("g")
      .attr("class", "axis")
      .attr("transform", "translate(0," + box.height + ")")
      .call(d3.axisBottom(x).tickValues(xTicks).tickSize(15).tickPadding(22));
  xa.select(".domain").remove();
  xa.selectAll("line").attr("stroke", "#000").attr("stroke-width", 2);
  xa.selectAll("text").attr("font-size", null);

  var ya = g.append("g")
      .attr("class", "axis")
      .call(d3.axisLeft(y).tickValues(yTicks).tickSize(14)
        .tickFormat(function(d) { return d === -2 ? "" : (d < 0 ? "\u2212" + (-d) : d); }));
  ya.select(".domain").remove();
  ya.selectAll("line").attr("stroke", "#000").attr("stroke-width", 2);
  ya.selectAll("text")
    .attr("font-size", null)
    .attr("x", null).attr("dy", null)
    .attr("text-anchor", "middle")
    .attr("transform", "translate(-44,0) rotate(-90)");

  // labels
  g.append("text")
    .attr("class", "title")
    .attr("text-anchor", "middle")
    .attr("x", box.width / 2)
    .attr("y", -51.8)
    .text("cluster " + p.name + " in " + p.phase + " phase. Ngenes= " + p.n);

  g.append("text")
    .attr("class", "lab")
    .attr("text-anchor", "middle")
    .attr("x", box.width / 2)
    .attr("y", 353.5)
    .text("time[minutes]");

  g.append("text")
    .attr("class", "lab")
    .attr("text-anchor", "middle")
    .attr("transform", "translate(-97," + (box.height / 2) + ") rotate(-90)")
    .text("Expression level");
});

// table
var tb = svg.append("g").attr("transform", "translate(1179,1094)");
var tW = W - 1179;
var headH = 57;
var rowY = d3.scaleLinear().domain([0, tableNames.length]).range([headH, 340]);
var colX = [88, 263.6, 566];

var hLines = [0].concat(d3.range(tableNames.length + 1).map(function(i) { return rowY(i); }));
tb.selectAll(".hl")
  .data(hLines)
  .enter().append("line")
    .attr("x1", 0).attr("x2", tW)
    .attr("y1", function(d) { return d; })
    .attr("y2", function(d) { return d; })
    .attr("stroke", "#222")
    .attr("stroke-width", 2.5);
tb.append("line")
  .attr("x1", 0).attr("x2", 0)
  .attr("y1", 0).attr("y2", 340)
  .attr("stroke", "#222")
  .attr("stroke-width", 2.5);

tableHeader.forEach(function(h, i) {
  tb.append("text")
    .attr("class", "tbl")
    .attr("font-weight", "bold")
    .attr("text-anchor", "middle")
    .attr("transform", "translate(" + colX[i] + ",41) scale(1.16,1)")
    .text(h);
});

tableNames.forEach(function(n, i) {
  var yy = rowY(i) + 39;
  [n, tableScores[i], tablePhases[i]].forEach(function(v, j) {
    tb.append("text")
      .attr("class", "tbl")
      .attr("text-anchor", "middle")
      .attr("x", colX[j])
      .attr("y", yy)
      .text(v);
  });
});
</script>
</body>
